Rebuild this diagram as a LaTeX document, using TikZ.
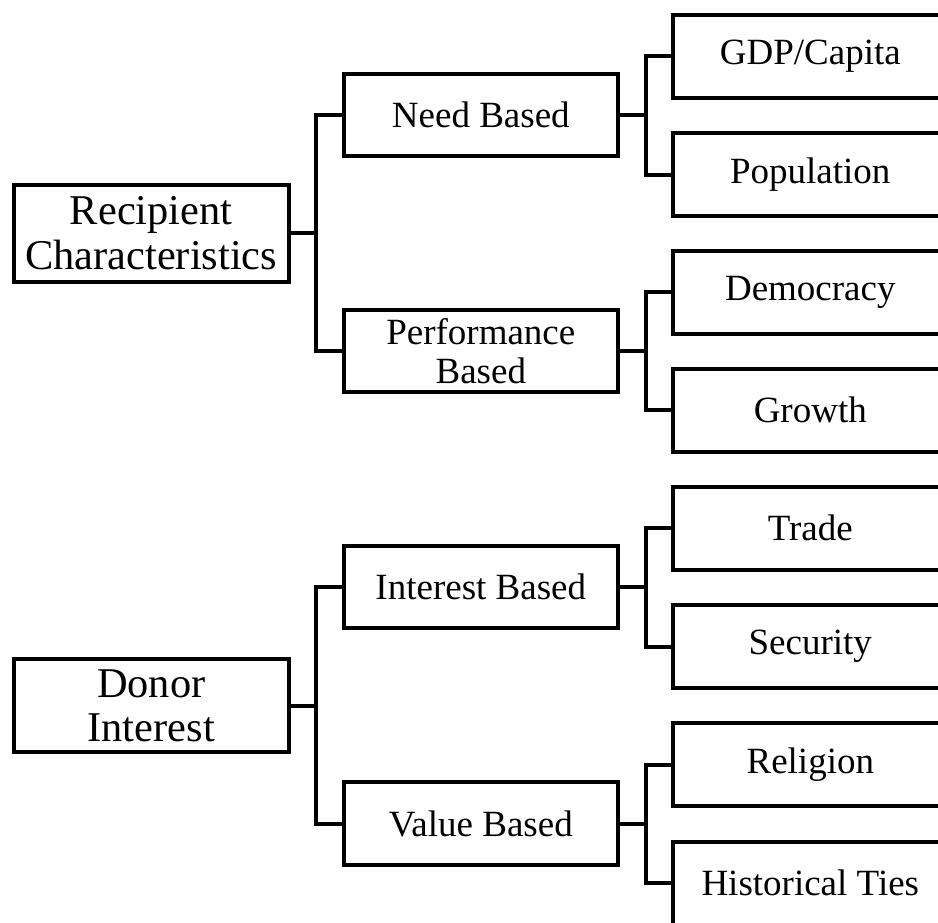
\documentclass[tikz,border=0pt]{standalone}
\usepackage{fontspec}
\setmainfont{Liberation Serif}
\usepackage{tikz}

\tikzset{
  catbox/.style={draw, line width=2pt, inner sep=0pt, align=center,
    minimum width=137.5pt, font=\fontsize{21.2}{22.2}\selectfont},
  subbox/.style={catbox, minimum width=137.2pt, minimum height=41.3pt,
    font=\fontsize{18.5}{19.5}\selectfont},
  leafbox/.style={subbox, minimum width=137pt, minimum height=41.5pt},
  link/.style={line width=2pt}
}

\begin{document}
\begin{tikzpicture}[x=0.5pt,y=-0.5pt]
% Fix page size and cut the boxes at the edge
\useasboundingbox (0,0) rectangle (938,922);
\clip (0,0) rectangle (938,922);

%Draw top level
\node [catbox, minimum height=48.5pt] (recip) at (151.2,233.3) {Recipient\\Characteristics};
\node [catbox, minimum height=46.5pt] (donor) at (151.2,705.7) {Donor\\Interest};

%Draw second level
\node [subbox] (need) at (480.8,115) {Need Based};
\node [subbox] (perf) at (480.8,351) {Performance\\Based};
\node [subbox] (inter) at (480.8,587) {Interest Based};
\node [subbox] (value) at (480.8,823.5) {Value Based};

%Draw third level
\node [leafbox] (gdp) at (810.3,56.3) {GDP/Capita};
\node [leafbox] (pop) at (810.3,174.5) {Population};
\node [leafbox] (demo) at (810.3,292) {Democracy};
\node [leafbox] (growth) at (810.3,410) {Growth};
\node [leafbox] (trade) at (810.3,528) {Trade};
\node [leafbox] (secur) at (810.3,646.5) {Security};
\node [leafbox] (relig) at (810.3,764.5) {Religion};
\node [leafbox] (hist) at (810.3,883) {Historical Ties};

%Draw connectors
\draw [link] (recip.east) -- ++(25,0) |- (need.west);
\draw [link] (recip.east) -- ++(25,0) |- (perf.west);
\draw [link] (donor.east) -- ++(25,0) |- (inter.west);
\draw [link] (donor.east) -- ++(25,0) |- (value.west);
\draw [link] (need.east) -- ++(25.5,0) |- (gdp.west);
\draw [link] (need.east) -- ++(25.5,0) |- (pop.west);
\draw [link] (perf.east) -- ++(25.5,0) |- (demo.west);
\draw [link] (perf.east) -- ++(25.5,0) |- (growth.west);
\draw [link] (inter.east) -- ++(25.5,0) |- (trade.west);
\draw [link] (inter.east) -- ++(25.5,0) |- (secur.west);
\draw [link] (value.east) -- ++(25.5,0) |- (relig.west);
\draw [link] (value.east) -- ++(25.5,0) |- (hist.west);
\end{tikzpicture}
\end{document}
